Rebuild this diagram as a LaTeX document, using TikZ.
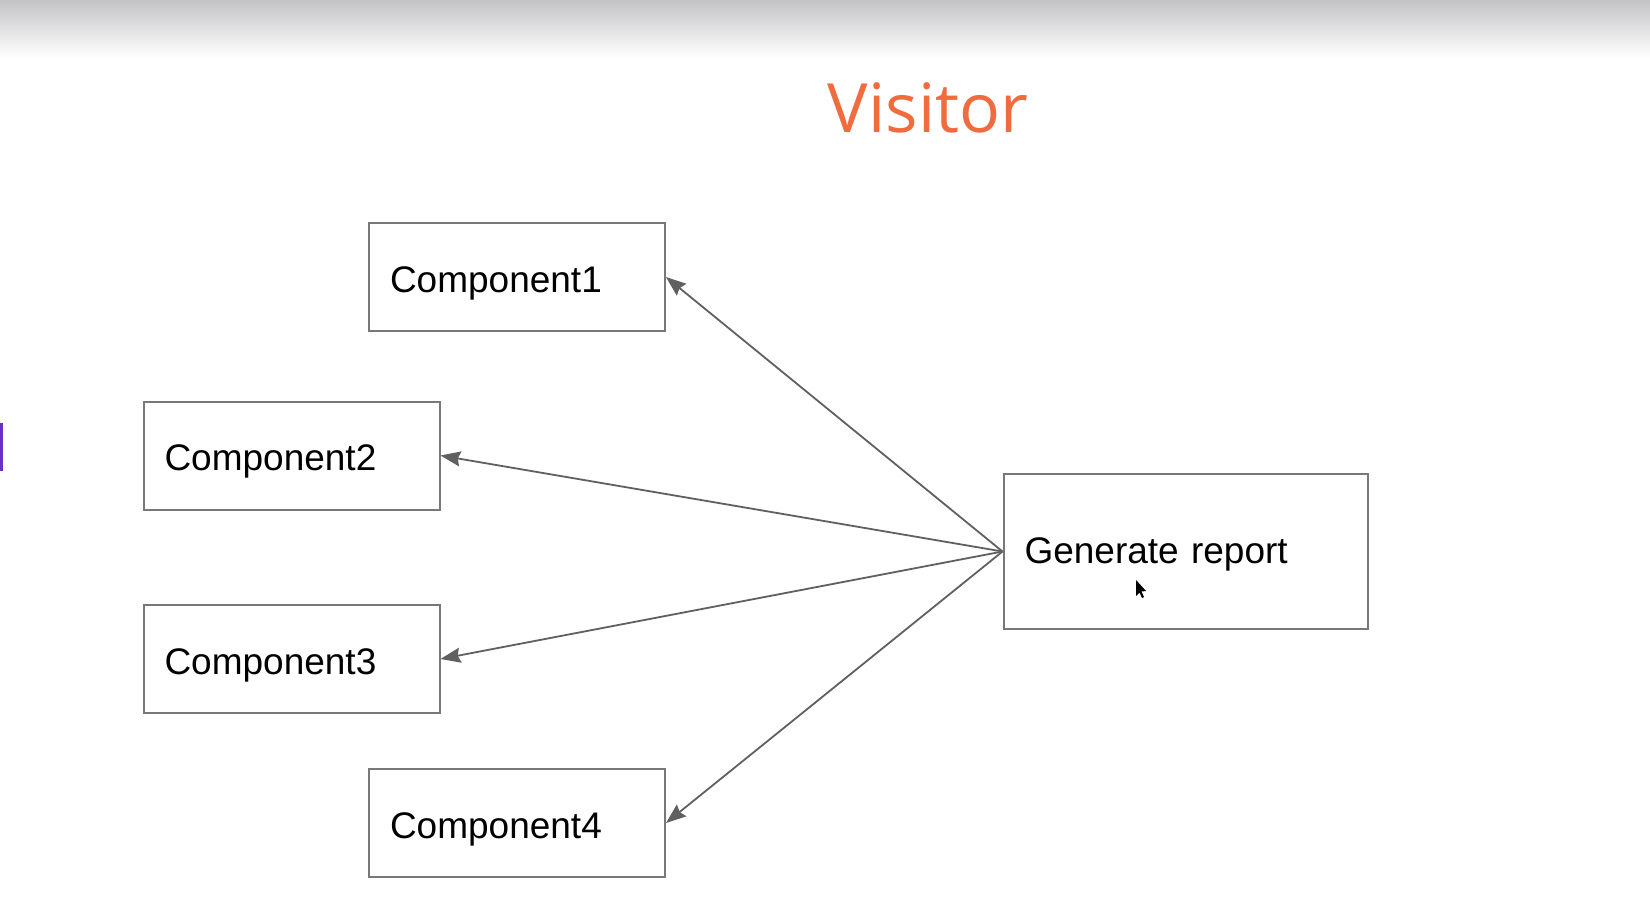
\documentclass[tikz,border=0pt]{standalone}
\usepackage{fontspec}
\setmainfont{Liberation Sans}
\newfontfamily\titlefont{Open Sans}
\usetikzlibrary{arrows.meta}
\definecolor{topgray}{RGB}{196,196,198}
\definecolor{titleorange}{RGB}{240,108,62}
\definecolor{boxgray}{RGB}{120,120,120}
\definecolor{arrowgray}{RGB}{96,96,96}
\definecolor{barpurple}{RGB}{108,48,200}
\tikzset{
  compbox/.style={draw=boxgray, line width=2pt, rectangle, minimum width=296pt, minimum height=108pt,
    inner xsep=21pt, text width=254pt, align=left, text height=30pt, text depth=0pt,
    font=\fontsize{37pt}{40pt}\selectfont},
  genbox/.style={draw=boxgray, line width=2pt, rectangle, minimum width=364pt, minimum height=155pt,
    inner xsep=21pt, text width=322pt, align=left, text height=23pt, text depth=0pt,
    font=\fontsize{37pt}{40pt}\selectfont},
  link/.style={draw=arrowgray, line width=1.8pt, -{Stealth[length=20pt,width=15pt,inset=2.5pt]}},
}
\begin{document}
\begin{tikzpicture}[x=1pt,y=-1pt]
\useasboundingbox (0,0) rectangle (1650,897);
\fill[white] (0,0) rectangle (1650,897);
\shade[top color=topgray, bottom color=white] (0,0) rectangle (1650,58);
\fill[barpurple] (0,423) rectangle (3,471);
\node[text=titleorange, font=\titlefont\fontsize{68pt}{72pt}\selectfont, anchor=base] (title) at (928,132) {Visitor};
\node[compbox] (c1) at (517,277) {Component1};
\node[compbox] (c2) at (291.5,455.5) {Component2};
\node[compbox] (c3) at (291.5,659) {Component3};
\node[compbox] (c4) at (517,823) {Component4};
\node[genbox] (gen) at (1185.5,551.5) {Generate report};
\coordinate (src) at (gen.west);
\draw[link] (src) -- (c1.east);
\draw[link] (src) -- (c2.east);
\draw[link] (src) -- (c3.east);
\draw[link] (src) -- (c4.east);
\fill[black] (1136,580) -- (1136,596) -- (1139.5,592.5) -- (1142,598) -- (1144,597) -- (1141.5,591.5) -- (1146,591) -- cycle;
\end{tikzpicture}
\end{document}
